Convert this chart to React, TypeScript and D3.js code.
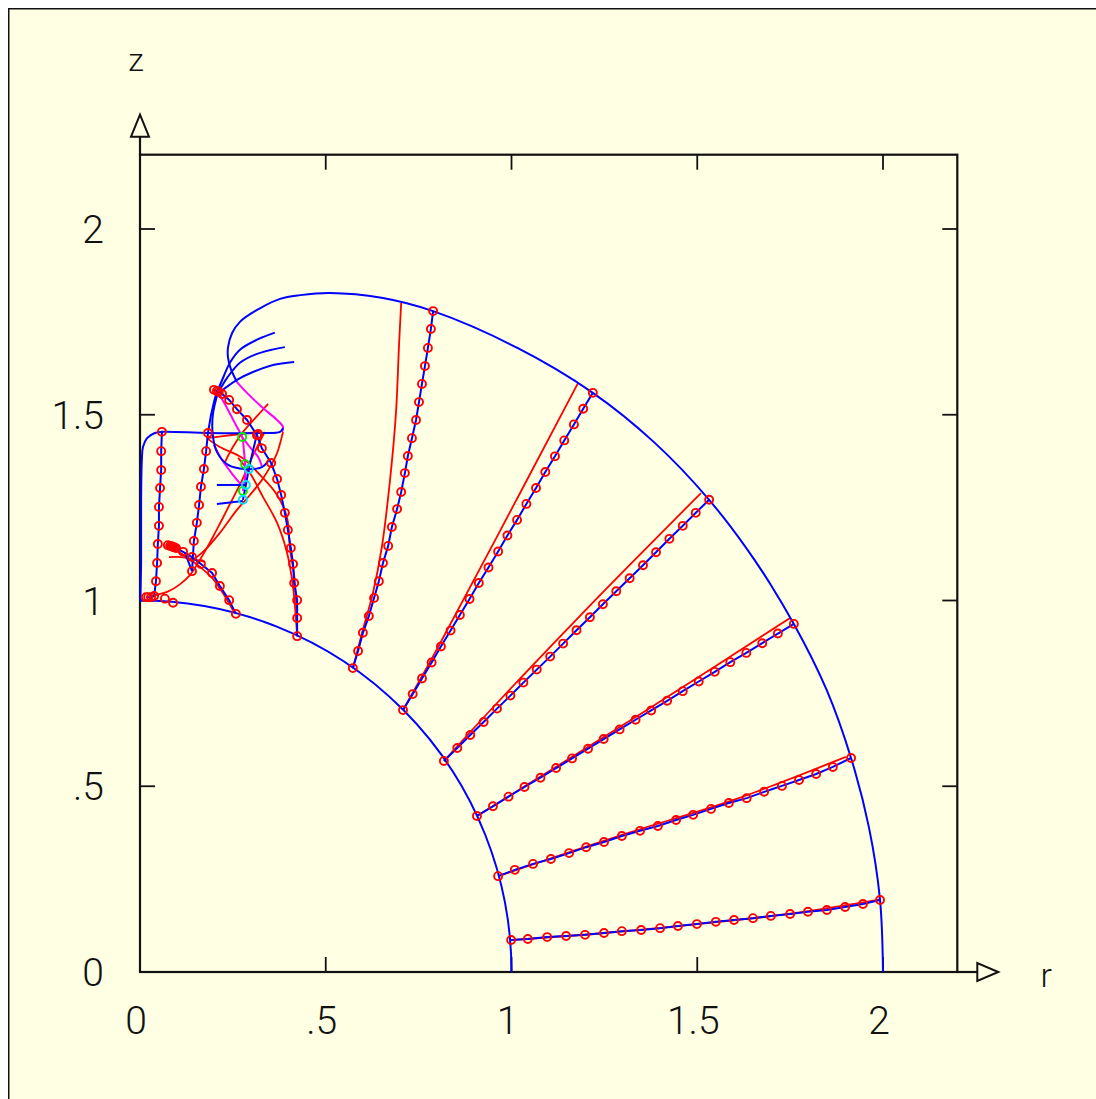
import React from "react";
import * as d3 from "d3";

type P = [number, number];

// ---- axes ----
const rTickValues = [0, 0.5, 1, 1.5, 2];
const rTickLabels = ["0", ".5", "1", "1.5", "2"];
const zTickValues = [0, 0.5, 1, 1.5, 2];
const zTickLabels = ["0", ".5", "1", "1.5", "2"];
const innerRadius = 1;

// ---- outer boundary (blue) ----
const outerBoundary: P[] = [
  [2.0, 0.0], [1.992, 0.194], [1.962, 0.39], [1.914, 0.576], [1.848, 0.76], [1.76, 0.937],
  [1.655, 1.108], [1.532, 1.271], [1.385, 1.425], [1.219, 1.559], [1.01, 1.683], [0.789, 1.779],
  [0.65, 1.815], [0.511, 1.828], [0.431, 1.822], [0.377, 1.812], [0.315, 1.782], [0.269, 1.75],
  [0.248, 1.72], [0.237, 1.682], [0.237, 1.653], [0.245, 1.622], [0.261, 1.588],
];
const magentaOuter: P[] = [
  [0.261, 1.588], [0.288, 1.559], [0.331, 1.518], [0.369, 1.486], [0.385, 1.467], [0.382, 1.454],
];
const jetBoundary: P[] = [
  [0.385, 1.464], [0.377, 1.454], [0.315, 1.451], [0.183, 1.451], [0.059, 1.454], [0.04, 1.451],
  [0.019, 1.437], [0.008, 1.413], [0.005, 1.378], [0.003, 1.271], [0.003, 1.109], [0.001, 1.001],
];

// ---- spokes (blue lines with red markers) ----
const spoke1: P[] = [
  [0.999, 0.086], [1.044, 0.089], [1.096, 0.094], [1.147, 0.097], [1.198, 0.1], [1.249, 0.105],
  [1.297, 0.11], [1.349, 0.113], [1.4, 0.118], [1.448, 0.124], [1.499, 0.129], [1.55, 0.135],
  [1.599, 0.14], [1.65, 0.145], [1.698, 0.151], [1.75, 0.156], [1.798, 0.162], [1.849, 0.167],
  [1.898, 0.175], [1.946, 0.183], [1.992, 0.194],
];
const spoke2: P[] = [
  [0.964, 0.258], [1.009, 0.275], [1.058, 0.291], [1.106, 0.304], [1.155, 0.32], [1.201, 0.336],
  [1.249, 0.35], [1.297, 0.366], [1.346, 0.38], [1.394, 0.393], [1.443, 0.409], [1.489, 0.423],
  [1.537, 0.439], [1.585, 0.455], [1.633, 0.468], [1.68, 0.485], [1.728, 0.501], [1.774, 0.517],
  [1.82, 0.533], [1.865, 0.552], [1.914, 0.576],
];
const spoke3: P[] = [
  [0.907, 0.42], [0.95, 0.446], [0.992, 0.472], [1.035, 0.498], [1.078, 0.523], [1.12, 0.549],
  [1.163, 0.575], [1.206, 0.601], [1.248, 0.627], [1.291, 0.653], [1.334, 0.679], [1.376, 0.704],
  [1.419, 0.73], [1.461, 0.756], [1.504, 0.782], [1.547, 0.808], [1.589, 0.834], [1.632, 0.859],
  [1.675, 0.885], [1.717, 0.911], [1.76, 0.937],
];
const spoke4: P[] = [
  [0.818, 0.568], [0.854, 0.603], [0.889, 0.638], [0.925, 0.673], [0.961, 0.709], [0.997, 0.744],
  [1.032, 0.779], [1.068, 0.814], [1.104, 0.849], [1.139, 0.884], [1.175, 0.92], [1.211, 0.955],
  [1.246, 0.99], [1.282, 1.025], [1.318, 1.06], [1.354, 1.095], [1.389, 1.13], [1.425, 1.166],
  [1.461, 1.201], [1.496, 1.236], [1.532, 1.271],
];
const spoke5: P[] = [
  [0.708, 0.705], [0.734, 0.748], [0.759, 0.79], [0.785, 0.833], [0.81, 0.876], [0.836, 0.919],
  [0.861, 0.961], [0.887, 1.004], [0.912, 1.047], [0.938, 1.089], [0.964, 1.132], [0.989, 1.175],
  [1.015, 1.217], [1.04, 1.26], [1.066, 1.303], [1.091, 1.346], [1.117, 1.388], [1.142, 1.431],
  [1.168, 1.474], [1.193, 1.516], [1.219, 1.559],
];
const spoke6: P[] = [
  [0.573, 0.818], [0.587, 0.864], [0.6, 0.913], [0.616, 0.958], [0.63, 1.007], [0.643, 1.052],
  [0.654, 1.101], [0.668, 1.147], [0.678, 1.198], [0.692, 1.246], [0.703, 1.292], [0.713, 1.343],
  [0.721, 1.389], [0.732, 1.437], [0.743, 1.486], [0.751, 1.534], [0.759, 1.583], [0.767, 1.631],
  [0.775, 1.68], [0.783, 1.731], [0.789, 1.779],
];
const spoke7: P[] = [
  [0.423, 0.904], [0.423, 0.953], [0.423, 1.001], [0.415, 1.047], [0.412, 1.098], [0.406, 1.141],
  [0.398, 1.19], [0.39, 1.236], [0.38, 1.284], [0.369, 1.327], [0.353, 1.37], [0.328, 1.41],
  [0.315, 1.445], [0.288, 1.486], [0.261, 1.515], [0.24, 1.54], [0.221, 1.556], [0.207, 1.564],
  [0.199, 1.567],
];
const spoke8: P[] = [
  [0.258, 0.964], [0.24, 1.001], [0.215, 1.039], [0.194, 1.074], [0.164, 1.098], [0.14, 1.117],
  [0.116, 1.131], [0.097, 1.141], [0.089, 1.144], [0.081, 1.147], [0.075, 1.149],
];
const spoke9Line: P[] = [
  [0.121, 1.128], [0.14, 1.079], [0.145, 1.16], [0.153, 1.209], [0.159, 1.257], [0.164, 1.306],
  [0.172, 1.354], [0.178, 1.402], [0.183, 1.451], [0.191, 1.499], [0.199, 1.534], [0.207, 1.564],
];
const spoke9Markers: P[] = [
  [0.14, 1.079], [0.145, 1.16], [0.153, 1.209], [0.159, 1.257], [0.164, 1.306], [0.172, 1.354],
  [0.178, 1.402], [0.183, 1.451],
];
const spoke10: P[] = [
  [0.059, 1.454], [0.057, 1.402], [0.057, 1.351], [0.054, 1.303], [0.051, 1.252], [0.051, 1.201],
  [0.048, 1.152], [0.046, 1.101], [0.043, 1.052], [0.038, 1.012], [0.03, 1.009], [0.022, 1.009],
  [0.016, 1.009],
];
const extraMarkers: P[] = [
  [0.067, 1.005], [0.089, 0.994], [0.318, 1.448], [0.212, 1.562], [0.085, 1.146], [0.093, 1.143],
];

// ---- red trajectories ----
const red1: P[] = [[0.999, 0.086], [1.25, 0.105], [1.5, 0.129], [1.75, 0.157], [1.99, 0.195]];
const red2: P[] = [[0.964, 0.258], [1.3, 0.37], [1.6, 0.464], [1.9, 0.579]];
const red3: P[] = [[0.907, 0.42], [1.1, 0.54], [1.4, 0.728], [1.75, 0.953]];
const red4: P[] = [[0.818, 0.568], [0.95, 0.712], [1.2, 0.975], [1.51, 1.289]];
const red5: P[] = [[0.708, 0.705], [0.8, 0.87], [0.96, 1.17], [1.179, 1.585]];
const red6: P[] = [
  [0.573, 0.818], [0.6, 0.921], [0.627, 1.02], [0.651, 1.144], [0.673, 1.324], [0.689, 1.505],
  [0.697, 1.682], [0.703, 1.801],
];
const redA1: P[] = [
  [0.423, 0.904], [0.42, 1.001], [0.415, 1.069], [0.404, 1.136], [0.396, 1.222], [0.369, 1.284],
  [0.323, 1.338], [0.275, 1.384], [0.215, 1.413], [0.18, 1.437],
];
const redA2: P[] = [
  [0.423, 0.904], [0.412, 1.036], [0.396, 1.128], [0.369, 1.209], [0.331, 1.279], [0.296, 1.343],
  [0.264, 1.384],
];
const redB1: P[] = [
  [0.027, 1.012], [0.073, 1.023], [0.108, 1.044], [0.135, 1.069], [0.156, 1.101], [0.18, 1.141],
  [0.202, 1.182], [0.223, 1.222], [0.248, 1.271], [0.275, 1.324], [0.296, 1.373], [0.318, 1.419],
  [0.336, 1.454],
];
const redB2: P[] = [
  [0.143, 1.109], [0.175, 1.136], [0.215, 1.182], [0.261, 1.244], [0.296, 1.284], [0.328, 1.324],
  [0.35, 1.359], [0.369, 1.397], [0.385, 1.454],
];
const redC: P[] = [[0.086, 1.141], [0.121, 1.12], [0.162, 1.09], [0.194, 1.061], [0.223, 1.02], [0.25, 0.974]];
const redD: P[] = [[0.078, 1.117], [0.11, 1.117], [0.14, 1.112], [0.175, 1.104]];
const redE: P[] = [[0.18, 1.437], [0.229, 1.443], [0.269, 1.448], [0.318, 1.454]];
const redF: P[] = [[0.345, 1.529], [0.31, 1.491], [0.275, 1.451], [0.25, 1.413], [0.229, 1.373]];

// ---- other blue lines ----
const fan1: P[] = [[0.21, 1.567], [0.226, 1.605], [0.242, 1.64], [0.269, 1.675], [0.315, 1.702], [0.363, 1.721]];
const fan2: P[] = [[0.213, 1.564], [0.235, 1.6], [0.269, 1.64], [0.315, 1.664], [0.39, 1.682]];
const fan3: P[] = [[0.215, 1.561], [0.261, 1.594], [0.304, 1.615], [0.358, 1.634], [0.415, 1.642]];
const loopLine: P[] = [
  [0.21, 1.561], [0.196, 1.499], [0.196, 1.445], [0.207, 1.4], [0.237, 1.365], [0.283, 1.354],
  [0.328, 1.359], [0.345, 1.375],
];
const shortBlue1: P[] = [[0.207, 1.311], [0.285, 1.311]];
const shortBlue2: P[] = [[0.207, 1.26], [0.277, 1.268]];
const stemBlue: P[] = [[0.315, 1.448], [0.293, 1.354], [0.285, 1.311], [0.277, 1.271]];

// ---- magenta lines ----
const magenta2: P[] = [
  [0.21, 1.561], [0.237, 1.513], [0.261, 1.467], [0.275, 1.44], [0.28, 1.4], [0.283, 1.367],
  [0.283, 1.33], [0.277, 1.295],
];
const magenta3: P[] = [[0.275, 1.44], [0.296, 1.413], [0.318, 1.386], [0.328, 1.362]];
const magenta4: P[] = [[0.199, 1.419], [0.221, 1.378], [0.248, 1.341], [0.277, 1.306]];

const greenMarkers: P[] = [[0.275, 1.44], [0.283, 1.367], [0.277, 1.295]];
const cyanMarkers: P[] = [[0.293, 1.354], [0.285, 1.311], [0.277, 1.271]];

export default function App() {
  const W = 1088;
  const H = 1091;
  const x = d3.scaleLinear().domain([0, 2.2]).range([132, 949.3]);
  const y = d3.scaleLinear().domain([0, 2.2]).range([964, 146.7]);
  const straight = d3.line<P>().x((d) => x(d[0])).y((d) => y(d[1]));
  const smooth = d3
    .line<P>()
    .x((d) => x(d[0]))
    .y((d) => y(d[1]))
    .curve(d3.curveCatmullRom.alpha(0.5));

  const circ = d3.path();
  const R = x(innerRadius) - x(0);
  circ.moveTo(x(0), y(0) - R);
  circ.arc(x(0), y(0), R, -Math.PI / 2, 0);

  const BLUE = "#0000ff";
  const RED = "#ff0000";
  const MAG = "#ff00ff";
  const LW = 2;
  const font = "Roboto, 'Liberation Sans', sans-serif";

  const x0 = x(0), x1 = x(2.2), yb = y(0), yt = y(2.2);
  const tickLen = 15;

  const spokes = [spoke1, spoke2, spoke3, spoke4, spoke5, spoke6, spoke7, spoke8, spoke10];
  const reds = [red1, red2, red3, red4, red5, red6, redA1, redA2, redB1, redB2, redC, redD, redE, redF];
  const blues = [fan1, fan2, fan3, loopLine, shortBlue1, shortBlue2, stemBlue];
  const allMarkers: P[] = [
    ...spoke1, ...spoke2, ...spoke3, ...spoke4, ...spoke5, ...spoke6, ...spoke7, ...spoke8,
    ...spoke9Markers, ...spoke10, ...extraMarkers,
  ];

  return (
    <svg
      width={W}
      height={H}
      style={{ position: "fixed", left: 8, top: 8, display: "block" }}
    >
      <rect x={0} y={0} width={W} height={H} fill="#ffffe4" />
      <line x1={0} y1={0.75} x2={W} y2={0.75} stroke="#111" strokeWidth={1.5} />
      <line x1={0.75} y1={0} x2={0.75} y2={H} stroke="#111" strokeWidth={1.5} />

      {/* frame */}
      <rect x={x0} y={yt} width={x1 - x0} height={yb - yt} fill="none" stroke="#111" strokeWidth={2.2} />
      {rTickValues.slice(1).map((v) => (
        <g key={"rt" + v}>
          <line x1={x(v)} x2={x(v)} y1={yb} y2={yb - tickLen} stroke="#111" strokeWidth={1.8} />
          <line x1={x(v)} x2={x(v)} y1={yt} y2={yt + tickLen} stroke="#111" strokeWidth={1.8} />
        </g>
      ))}
      {zTickValues.slice(1).map((v) => (
        <g key={"zt" + v}>
          <line x1={x0} x2={x0 + tickLen} y1={y(v)} y2={y(v)} stroke="#111" strokeWidth={1.8} />
          <line x1={x1} x2={x1 - tickLen} y1={y(v)} y2={y(v)} stroke="#111" strokeWidth={1.8} />
        </g>
      ))}
      {/* axis arrows */}
      <line x1={x0} x2={x0} y1={yt} y2={yt - 18} stroke="#111" strokeWidth={2.2} />
      <path
        d={`M${x0 - 9},${yt - 18} L${x0 + 9},${yt - 18} L${x0},${yt - 40} Z`}
        fill="none"
        stroke="#111"
        strokeWidth={2}
      />
      <line x1={x1} x2={x1 + 20} y1={yb} y2={yb} stroke="#111" strokeWidth={2.2} />
      <path
        d={`M${x1 + 20},${yb - 9} L${x1 + 20},${yb + 9} L${x1 + 41},${yb} Z`}
        fill="none"
        stroke="#111"
        strokeWidth={2}
      />
      <text x={x0 - 4} y={63} fontSize={32} fontFamily={font} fontWeight={300} textAnchor="middle" fill="#111">
        z
      </text>
      <text x={x1 + 89} y={979} fontSize={34} fontFamily={font} fontWeight={300} textAnchor="middle" fill="#111">
        r
      </text>
      {rTickValues.map((v, i) => (
        <text
          key={"rl" + v}
          x={x(v) - 4}
          y={1026}
          fontSize={39}
          fontFamily={font}
          fontWeight={300}
          textAnchor="middle"
          fill="#111"
        >
          {rTickLabels[i]}
        </text>
      ))}
      {zTickValues.map((v, i) => (
        <text
          key={"zl" + v}
          x={96}
          y={y(v) + 14}
          fontSize={39}
          fontFamily={font}
          fontWeight={300}
          textAnchor="end"
          fill="#111"
        >
          {zTickLabels[i]}
        </text>
      ))}

      {/* red trajectories */}
      {reds.map((d, i) => (
        <path key={"r" + i} d={smooth(d) || ""} fill="none" stroke={RED} strokeWidth={1.8} />
      ))}
      {/* magenta */}
      {[magentaOuter, magenta2, magenta3, magenta4].map((d, i) => (
        <path key={"m" + i} d={smooth(d) || ""} fill="none" stroke={MAG} strokeWidth={LW} />
      ))}
      {/* blue curves */}
      <path d={circ.toString()} fill="none" stroke={BLUE} strokeWidth={LW} />
      <path d={smooth(outerBoundary) || ""} fill="none" stroke={BLUE} strokeWidth={LW} />
      <path d={smooth(jetBoundary) || ""} fill="none" stroke={BLUE} strokeWidth={LW} />
      {blues.map((d, i) => (
        <path key={"b" + i} d={smooth(d) || ""} fill="none" stroke={BLUE} strokeWidth={LW} />
      ))}
      {spokes.map((d, i) => (
        <path key={"s" + i} d={straight(d) || ""} fill="none" stroke={BLUE} strokeWidth={LW} />
      ))}
      <path d={straight(spoke9Line) || ""} fill="none" stroke={BLUE} strokeWidth={LW} />

      {/* markers */}
      {allMarkers.map((d, i) => (
        <circle key={"c" + i} cx={x(d[0])} cy={y(d[1])} r={4} fill="none" stroke={RED} strokeWidth={1.9} />
      ))}
      {greenMarkers.map((d, i) => (
        <circle key={"g" + i} cx={x(d[0])} cy={y(d[1])} r={4} fill="none" stroke="#00ee00" strokeWidth={1.9} />
      ))}
      {cyanMarkers.map((d, i) => (
        <circle key={"cy" + i} cx={x(d[0])} cy={y(d[1])} r={4} fill="none" stroke="#00e0ff" strokeWidth={1.9} />
      ))}
    </svg>
  );
}
